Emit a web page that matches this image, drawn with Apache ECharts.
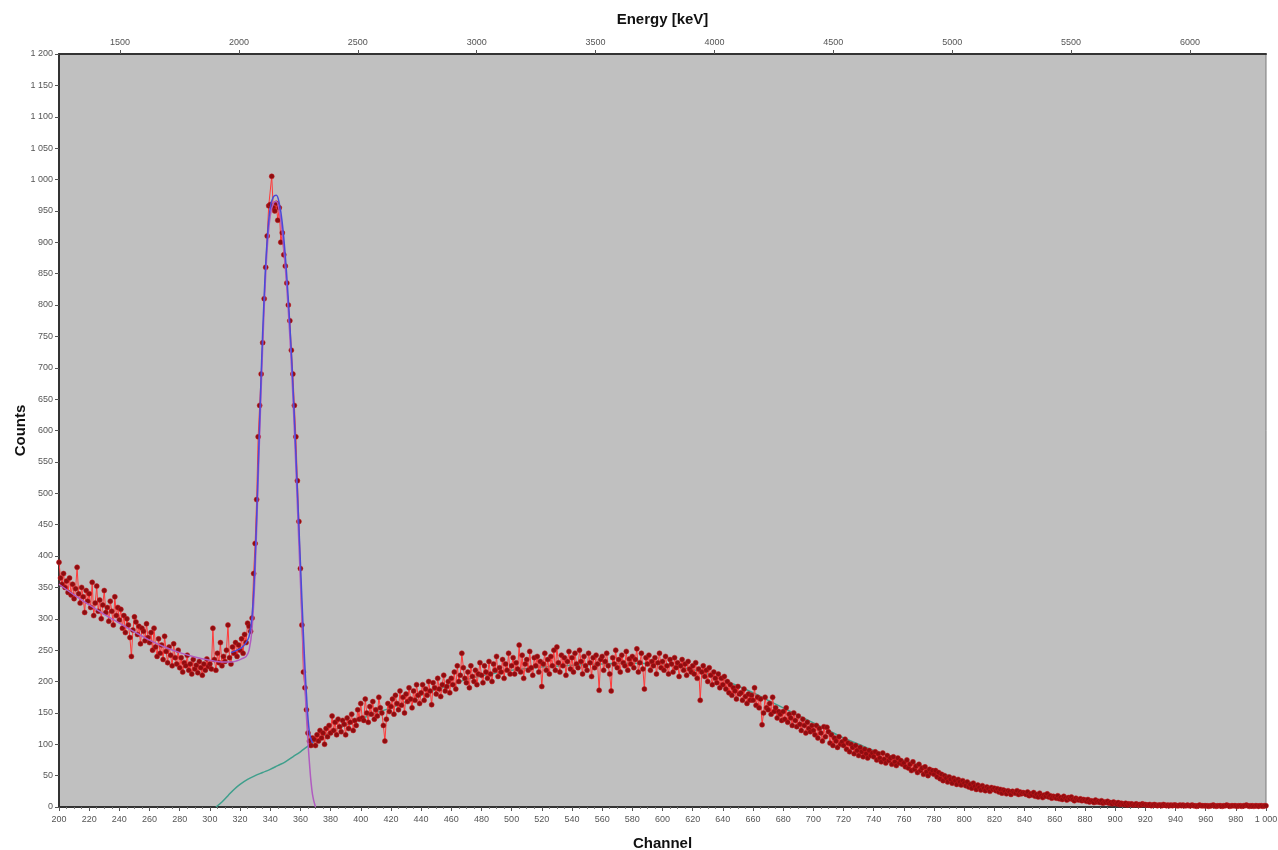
<!DOCTYPE html>
<html>
<head>
<meta charset="utf-8">
<script src="https://cdn.jsdelivr.net/npm/echarts@6/dist/echarts.min.js"></script>
<style>
  html, body { margin: 0; padding: 0; background: #ffffff; }
  #chart { width: 1278px; height: 850px; }
</style>
</head>
<body>
<div id="chart"></div>
<script>
// Spectrum: counts per channel, first channel = 200, one value per channel up to 1000
const firstChannel = 200;
const counts = [
  390,365,355,372,350,360,342,365,338,355,332,348,382,340,325,350,335,310,345,328,
  340,318,358,305,325,352,312,330,300,322,345,310,318,296,328,312,290,335,305,318,
  298,315,285,305,278,300,290,270,240,282,303,295,275,288,260,285,280,265,292,270,
  262,278,250,285,255,240,268,245,258,235,272,248,230,255,242,225,260,238,228,250,
  222,238,215,230,225,242,218,228,212,235,220,226,214,232,222,210,228,218,236,224,
  228,220,285,235,218,245,230,262,225,240,232,250,290,238,228,255,245,262,240,258,
  250,268,245,275,262,293,288,280,301,372,420,490,590,640,690,740,810,860,910,958,
  960,1005,955,950,962,935,955,900,915,880,862,835,800,775,728,690,640,590,520,455,
  380,290,215,190,155,118,105,98,110,108,98,115,105,122,110,118,100,125,112,130,
  118,145,122,135,115,140,128,120,138,132,115,142,125,135,148,122,138,130,155,140,
  165,142,138,172,150,135,160,148,168,140,155,145,175,158,150,130,105,140,165,152,
  160,172,148,178,165,155,185,162,175,150,180,168,190,172,158,185,170,195,178,165,
  182,195,170,188,178,200,185,163,198,190,180,205,188,176,195,210,185,192,200,182,
  205,195,215,188,225,200,210,245,222,205,198,215,190,225,208,200,218,195,212,230,
  210,198,225,215,205,232,212,200,228,218,240,208,222,215,235,205,228,218,245,212,
  225,238,212,230,220,258,215,242,205,228,235,218,248,222,210,238,225,240,215,232,
  192,228,245,218,235,212,240,225,250,218,255,230,215,242,225,238,210,232,248,220,
  238,215,245,228,222,250,232,212,240,225,218,245,230,208,238,222,242,228,186,235,
  240,218,232,245,225,212,185,238,228,250,222,235,215,242,230,225,248,218,236,228,
  240,222,235,252,215,230,245,220,188,238,228,242,218,232,225,238,212,230,245,222,
  232,218,240,225,212,235,228,215,238,222,230,208,225,235,218,228,210,232,220,215,
  225,212,230,205,220,170,215,225,208,218,200,222,210,195,215,205,198,212,190,205,
  195,208,188,200,182,195,178,190,185,172,192,180,182,170,188,176,165,180,170,178,
  170,190,162,175,158,172,131,150,175,158,155,165,148,175,152,158,142,152,148,138,
  152,140,158,135,148,142,130,150,138,128,145,132,122,140,130,118,135,125,120,130,
  122,115,130,110,125,118,105,128,112,127,120,102,115,98,110,105,95,112,100,104,
  98,108,92,102,88,100,95,85,98,90,82,95,88,80,92,85,78,90,82,86,
  80,88,75,85,78,72,86,76,70,82,74,78,68,80,72,66,78,70,74,68,
  70,64,75,62,68,58,72,60,65,55,68,58,62,52,64,56,50,60,54,58,
  52,58,48,55,45,52,42,50,46,40,48,44,38,46,42,36,44,40,35,42,
  38,34,40,32,36,30,38,33,28,35,31,27,34,30,26,32,29,25,31,28,
  30,26,29,24,28,22,27,25,21,26,24,20,25,23,22,26,20,24,21,23,
  22,20,24,18,21,19,23,17,20,16,22,18,15,19,17,21,16,18,14,17,
  16,14,18,13,15,12,17,14,11,15,13,16,12,10,14,12,11,13,10,12,
  11,9,12,8,10,9,7,11,8,9,7,10,6,8,7,9,6,7,5,8,
  6,5,7,4,6,5,4,6,3,5,4,5,3,4,5,3,4,3,5,4,
  4,3,3,4,2,3,4,3,2,3,3,2,4,3,2,3,2,3,2,3,
  3,2,2,3,2,3,2,2,3,2,2,3,2,2,1,2,3,2,2,2,
  2,2,1,2,2,3,2,1,2,2,2,1,2,2,3,2,1,2,2,2,
  2,1,2,2,1,2,2,3,2,1,2,2,1,2,2,1,2,2,1,2,2
];

// Fitted peak with the low-energy background (goes to zero past the peak)
const peakFit = [
  [200,355],[210,338],[220,322],[230,307],[240,293],[250,279],[260,266],[270,255],
  [280,246],[290,239],[300,234],[308,231],[314,231],[318,233],[321,236],[324,240],
  [326,250],[328,285],[330,375],[332,520],[334,665],[336,795],[338,890],[340,942],
  [342,962],[344,965],[346,950],[348,915],[350,860],[352,790],[354,705],[356,600],
  [358,480],[360,360],[362,245],[364,145],[366,70],[368,20],[370,0]
];

// Total fit across the peak
const totalFit = [
  [314,246],[318,250],[321,254],[324,262],[326,272],[328,305],[330,395],[332,540],
  [334,690],[336,815],[338,905],[340,955],[342,972],[344,975],[346,962],[348,930],
  [350,878],[352,808],[354,725],[356,622],[358,505],[360,390],[362,275],[364,180],
  [366,118],[368,102]
];

// Continuum fit under and above the peak
const continuumFit = [
  [304,0],[308,8],[312,18],[316,28],[320,36],[325,44],[330,50],[335,55],[340,60],
  [345,66],[350,72],[355,80],[360,88],[365,97],[370,105],[380,120],[390,130],
  [400,140],[410,150],[420,158],[430,168],[440,178],[450,187],[460,195],[470,203],
  [480,209],[490,214],[500,218],[520,223],[540,226],[560,228],[580,229],[600,227],
  [610,224],[620,219],[630,212],[640,203],[650,193],[660,182],[670,170],[680,158],
  [690,146],[700,134],[710,122],[720,110],[730,100],[740,90],[750,82],[760,74],
  [770,66],[780,58],[790,50],[800,42],[810,36],[820,31],[830,27],[840,23],[850,19],
  [860,15],[870,12],[880,9],[890,7],[900,5],[920,3],[940,2],[960,1.5],[980,1],[1000,1]
];

// Energy scale on the top axis
const energyMin = 1243;
const energyMax = 6320;
const energyTicks = [1500, 2000, 2500, 3000, 3500, 4000, 4500, 5000, 5500, 6000];

const spectrum = counts.map((c, i) => [firstChannel + i, c]);

function spaced(v) {
  const s = String(Math.round(v));
  return s.length > 3 ? s.slice(0, s.length - 3) + ' ' + s.slice(-3) : s;
}

const labelFont = { fontFamily: 'Liberation Sans, Arial, sans-serif', fontSize: 9, color: '#555' };
const nameFont = { fontFamily: 'Liberation Sans, Arial, sans-serif', fontSize: 15, fontWeight: 'bold', color: '#111' };

const chart = echarts.init(document.getElementById('chart'), null, { renderer: 'canvas' });
chart.setOption({
  animation: false,
  backgroundColor: '#ffffff',
  grid: {
    left: 59, right: 12, top: 54, bottom: 43, outerBoundsMode: 'none', containLabel: false,
    show: true, backgroundColor: '#c0c0c0', borderColor: '#7a7a7a', borderWidth: 1
  },
  xAxis: [
    {
      type: 'value', position: 'bottom', min: 200, max: 1000, interval: 20,
      name: 'Channel', nameLocation: 'middle', nameGap: 29, nameTextStyle: nameFont,
      axisLine: { show: true, onZero: false, lineStyle: { color: '#333', width: 2 } },
      axisTick: { show: true, length: 4, lineStyle: { color: '#555' } },
      minorTick: { show: true, splitNumber: 4, length: 2, lineStyle: { color: '#777' } },
      axisLabel: Object.assign({ margin: 8, formatter: spaced }, labelFont),
      splitLine: { show: false }
    },
    {
      type: 'value', position: 'top', min: energyMin, max: energyMax,
      name: 'Energy [keV]', nameLocation: 'middle', nameGap: 27, nameMoveOverlap: false,
      nameTextStyle: nameFont,
      axisLine: { show: true, onZero: false, lineStyle: { color: '#333', width: 2 } },
      axisTick: { show: true, length: 4, customValues: energyTicks, lineStyle: { color: '#555' } },
      axisLabel: Object.assign({ margin: 7, customValues: energyTicks, formatter: v => String(v) }, labelFont),
      splitLine: { show: false }
    }
  ],
  yAxis: {
    type: 'value', min: 0, max: 1200, interval: 50,
    name: 'Counts', nameLocation: 'middle', nameGap: 31, nameMoveOverlap: false,
    nameRotate: 90, nameTextStyle: nameFont,
    axisLine: { show: true, onZero: false, lineStyle: { color: '#333', width: 2 } },
    axisTick: { show: true, length: 4, lineStyle: { color: '#555' } },
    axisLabel: Object.assign({ margin: 6, formatter: spaced }, labelFont),
    splitLine: { show: false }
  },
  series: [
    {
      name: 'continuum', type: 'line', data: continuumFit, smooth: 0.4,
      showSymbol: false, lineStyle: { color: '#3f9f8c', width: 1.5 }, z: 2
    },
    {
      name: 'spectrum', type: 'line', data: spectrum,
      symbol: 'circle', symbolSize: 5, showSymbol: true,
      lineStyle: { color: '#ff3a3a', width: 1 },
      itemStyle: { color: '#8e0d10', borderColor: '#c8181c', borderWidth: 0.5 }, z: 3
    },
    {
      name: 'peak', type: 'line', data: peakFit, smooth: 0.4,
      showSymbol: false, lineStyle: { color: '#b05cc0', width: 1.5 }, z: 4
    },
    {
      name: 'total', type: 'line', data: totalFit, smooth: 0.4,
      showSymbol: false, lineStyle: { color: '#4a4ad8', width: 1.5 }, z: 5
    }
  ]
});
</script>
</body>
</html>
